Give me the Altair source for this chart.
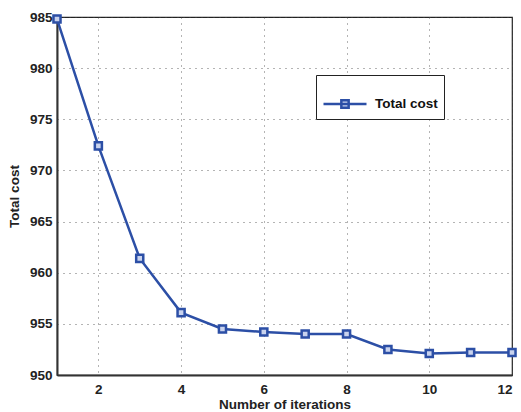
import altair as alt
import pandas as pd

iterations = [1, 2, 3, 4, 5, 6, 7, 8, 9, 10, 11, 12]
total_cost = [984.8, 972.4, 961.4, 956.1, 954.5, 954.2, 954.0, 954.0, 952.5, 952.1, 952.2, 952.2]
series = ["Total cost"] * len(iterations)

df = pd.DataFrame({"iter": iterations, "cost": total_cost, "series": series})

BLUE = "#2c4fa6"
FONT = "Liberation Sans"

x = alt.X("iter:Q", title="Number of iterations",
          scale=alt.Scale(domain=[1, 12], nice=False, zero=False),
          axis=alt.Axis(values=[2, 4, 6, 8, 10, 12], format="d"))
y = alt.Y("cost:Q", title="Total cost",
          scale=alt.Scale(domain=[950, 985], nice=False, zero=False),
          axis=alt.Axis(values=[950, 955, 960, 965, 970, 975, 980, 985], format="d"))

color = alt.Color("series:N", title=None,
                  scale=alt.Scale(range=[BLUE]),
                  legend=alt.Legend(orient="none", legendX=259, legendY=58,
                                    symbolType="M-1,0H1M-0.17,-0.17H0.17V0.17H-0.17Z",
                                    symbolSize=1849, symbolStrokeWidth=2.5,
                                    symbolStrokeColor=BLUE, symbolFillColor="#c9d3ee",
                                    labelFont=FONT, labelFontWeight="bold", labelFontSize=13.5,
                                    labelColor="#111", labelOffset=7,
                                    strokeColor="#222", fillColor="white",
                                    padding=6))

line = alt.Chart(df).mark_line(strokeWidth=2.5, clip=False).encode(x=x, y=y, color=color)
pts = alt.Chart(df).mark_point(shape="square", size=50, filled=False, strokeWidth=2.5,
                               color=BLUE, fill="#c9d3ee", fillOpacity=1, clip=False).encode(x=x, y=y)

chart = (line + pts).properties(
    width=455, height=358,
    autosize=alt.AutoSizeParams(type="none"),
    padding={"left": 57, "top": 17, "right": 9, "bottom": 37},
    background="white",
).configure_view(stroke="#222", strokeWidth=1.2).configure_axis(
    grid=True, gridColor="#444", gridDash=[1, 5], gridWidth=1, gridOpacity=0.8,
    domainColor="#333", domainWidth=2,
    ticks=False, labelPadding=5,
    labelFont=FONT, labelFontWeight="bold", labelFontSize=13.5, labelColor="#222",
    titleFont=FONT, titleFontWeight="bold", titleFontSize=13.5, titleColor="#222",
).configure_axisX(titlePadding=2, labelPadding=7).configure_axisY(titlePadding=8)

chart.save("out.html", embed_options={"renderer": "svg", "actions": False})
